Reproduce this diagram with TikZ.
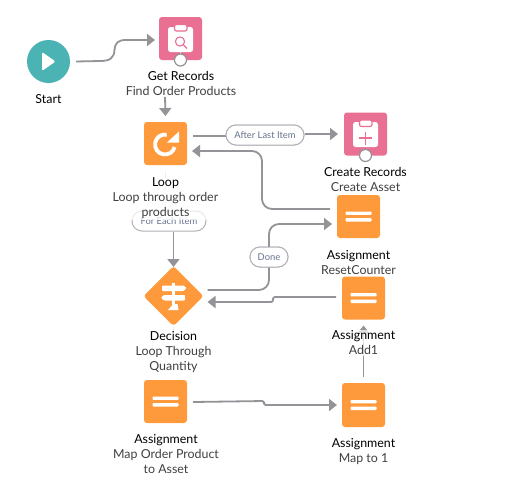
\documentclass[tikz,border=0pt]{standalone}
\usepackage{fontspec}
\setmainfont{Lato}
\usetikzlibrary{arrows.meta,shapes.geometric}
\definecolor{pinkc}{HTML}{E96F93}
\definecolor{orangec}{HTML}{FF9A3C}
\definecolor{tealc}{HTML}{4BB3B3}
\definecolor{linec}{HTML}{939398}
\definecolor{pillc}{HTML}{B2B2B8}
\definecolor{pilltext}{HTML}{66748F}
\definecolor{subc}{HTML}{404040}
\definecolor{fadec}{HTML}{EDEDED}
\tikzset{
  iconbox/.style={rectangle,rounded corners=3pt,minimum size=43pt,inner sep=0pt,outer sep=0pt,fill=#1},
  conn/.style={draw=linec,line width=1.8pt,-{Triangle[length=8pt,width=12pt,color=linec]},rounded corners=10pt},
  faint/.style={draw=fadec,line width=1.5pt},
  pill/.style={draw=pillc,line width=1pt,fill=white,rounded corners=10pt,minimum height=20pt,inner sep=0pt,text=pilltext,font=\fontsize{9.4}{11}\selectfont},
  lab/.style={align=center,inner sep=1pt,font=\fontsize{12.4}{15}\selectfont,text=subc,fill=white,fill opacity=.72,text opacity=1,anchor=north},
  port/.style={circle,draw=linec,line width=1.2pt,fill=white,minimum size=12pt,inner sep=0pt},
  pics/eqicon/.style={code={
    \fill[white,rounded corners=.8pt] (-13pt,1.6pt) rectangle (13pt,5pt);
    \fill[white,rounded corners=.8pt] (-13pt,-5pt) rectangle (13pt,-1.6pt);
  }}
}
\newcommand{\tl}[1]{{\color{black}#1}}
\begin{document}
\begin{tikzpicture}[x=1pt,y=-1pt]
\useasboundingbox[fill=white] (0,0) rectangle (526,498);
% icon nodes
\node[circle,fill=tealc,minimum size=43pt,inner sep=0pt,outer sep=0pt] (start) at (48.5,61.5) {};
\node[iconbox=pinkc] (getrec) at (180.5,38.5) {};
\node[iconbox=orangec] (loop) at (165.5,143.5) {};
\node[iconbox=pinkc] (crec) at (365.5,134) {};
\node[iconbox=orangec] (reset) at (358.5,216.5) {};
\node[iconbox=orangec] (add) at (363.5,298) {};
\node[iconbox=orangec,minimum height=44pt] (mapone) at (363.5,405) {};
\node[iconbox=orangec] (mapop) at (165.5,401.5) {};
\node[diamond,fill=orangec,minimum width=60pt,minimum height=60pt,inner sep=0pt,outer sep=0pt,rounded corners=3pt] (decision) at (173.5,296) {};
% pills
\node[pill,minimum width=34pt,draw=fadec] (hidden) at (169,347) {};
\node[pill,minimum width=78pt] (after) at (265,135) {After Last Item};
\node[pill,minimum width=74pt] (foreach) at (169,221) {For Each Item};
\node[pill,minimum width=38pt] (done) at (269,257) {Done};
% faint connectors
\draw[faint] ([yshift=-6pt]getrec.south) -- ++(0,40pt);
\draw[faint] ([yshift=-7pt]loop.south) -- (loop.south |- foreach.north);
\draw[faint] (decision.south) -- (hidden.north -| decision.south);
\draw[faint] (hidden.south -| mapop.north) -- ([yshift=8pt]mapop.north);
% connectors
\draw[conn,rounded corners=0pt] ([xshift=6pt]start.east) -- (100,61) .. controls (110,61) and (114,58) .. (114.5,50) .. controls (115,43) and (118,40) .. (126,40) -- ([shift={(-4pt,-1.5pt)}]getrec.west);
\draw[conn] ([shift={(-15.5pt,-37pt)}]getrec.south) -- ([yshift=6pt]loop.north);
\draw[conn] ([shift={(6pt,7.5pt)}]loop.east) -- (after.west |- 0,136) (after.east |- 0,134) -- ([shift={(-6pt,0pt)}]crec.west |- 0,134);
\draw[conn] ([shift={(-7pt,7.5pt)}]reset.west) -- (262,209) -- (262,151) -- ([shift={(5pt,-7.5pt)}]loop.east);
\draw[conn] (foreach.south -| decision.north) -- ([yshift=-1pt]decision.north);
\draw[conn] ([shift={(4pt,6pt)}]decision.east) -- (269,290) -- (269,224) -- ([shift={(-5pt,-7.5pt)}]reset.west |- 0,216.5);
\draw[conn,rounded corners=2pt] ([shift={(-6pt,1pt)}]add.west) -- (273,297) -- (273,302) -- ([shift={(4pt,-6pt)}]decision.east);
\draw[conn] ([yshift=6pt]mapone.north) -- ([yshift=-6pt]add.south);
\draw[conn,rounded corners=1.5pt] ([shift={(6pt,-0.5pt)}]mapop.east) -- (264,401) -- (264,405) -- ([xshift=-5pt]mapone.west);
% redraw pills over their lines
\node[pill,minimum width=78pt] at (after) {After Last Item};
\node[pill,minimum width=38pt] at (done) {Done};
% port circles
\node[port] (getport) at (getrec.south) {};
\node[port] (crecport) at (crec.south) {};
% start icon
\fill[white,rounded corners=1.5pt] (42,52) -- (55.5,61.5) -- (42,71) -- cycle;
% get records icon
\fill[white,rounded corners=2.5pt] (168,27) rectangle (193,52);
\draw[pinkc,fill=white,line width=1.2pt,rounded corners=2pt] (174.5,24.5) rectangle (187,31);
\draw[pinkc,line width=1.1pt] (180,41.5) circle[radius=4.6pt];
\draw[pinkc,line width=1.4pt] (183.5,45) -- (187,48.5);
% create records icon
\fill[white,rounded corners=2.5pt] (353,122) rectangle (378,147);
\draw[pinkc,fill=white,line width=1.2pt,rounded corners=2pt] (359.5,120) rectangle (372,126.5);
\draw[pinkc,line width=1.2pt] (359,138) -- (372,138) (365.5,131.5) -- (365.5,144.5);
% loop icon
\draw[white,line width=3.8pt] ([shift={(80:10pt)}]165,144.5) arc[start angle=80,end angle=345,radius=10pt];
\fill[white] (179,131.5) -- (179,142.5) -- (167,142.5) -- cycle;
% assignment icons
\pic at (reset) {eqicon};
\pic at (add) {eqicon};
\pic at (mapone) {eqicon};
\pic at (mapop) {eqicon};
% decision icon
\fill[white,rounded corners=.8pt] (162,285.5) -- (183.5,285.5) -- (186.5,288) -- (183.5,291) -- (162,291) -- cycle;
\fill[white,rounded corners=.8pt] (185,295) -- (164,295) -- (161,297.5) -- (164,300.5) -- (185,300.5) -- cycle;
\fill[white] (172,283) rectangle (174.8,286) (172,290) rectangle (174.8,296) (172,300) rectangle (174.8,306);
\fill[white] (168,310) -- (173.4,304) -- (177.5,304) -- (178.5,310) -- cycle;
% labels
\node[lab] (startlab) at (48.5,93.5) {\tl{Start}};
\node[lab] (getlab) at (181,70.5) {\tl{Get Records}\\Find Order Products};
\node[lab] (looplab) at (165.5,176.5) {\tl{Loop}\\Loop through order\\products};
\node[lab] (creclab) at (365.5,166.5) {\tl{Create Records}\\Create Asset};
\node[lab] (resetlab) at (358.5,249.5) {\tl{Assignment}\\ResetCounter};
\node[lab] (addlab) at (363.5,329.5) {\tl{Assignment}\\Add1};
\node[lab] (declab) at (173.5,330.5) {\tl{Decision}\\Loop Through\\Quantity};
\node[lab] (mapoplab) at (166,433.5) {\tl{Assignment}\\Map Order Product\\to Asset};
\node[lab] (maponelab) at (363.5,437.5) {\tl{Assignment}\\Map to 1};
\end{tikzpicture}
\end{document}
